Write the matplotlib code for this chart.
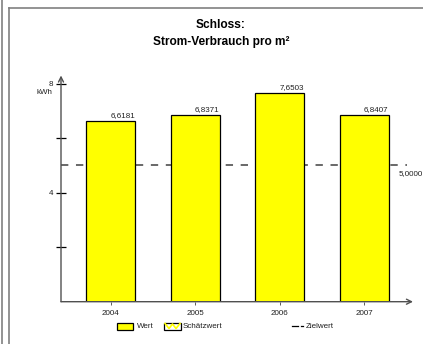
import numpy as np
import matplotlib
matplotlib.use("Agg")
import matplotlib.pyplot as plt
from matplotlib.lines import Line2D
from matplotlib.patches import Rectangle

plt.rcParams['font.family'] = ['Liberation Sans', 'DejaVu Sans']

# data
jahre = ['2004', '2005', '2006', '2007']
wert = [6.6181, 6.8371, 7.6503, 6.8407]
zielwert = 5.0
yticks = [2, 4, 6, 8]
ylabels = ['', '4', '', '8']

W, H = 423, 344
fig = plt.figure(figsize=(W/100, H/100), dpi=100)

def fx(px):
    return px / W

def fy(py):
    return 1 - py / H

# outer frame
grau = '#808080'
fig.add_artist(Line2D([fx(1.5), fx(1.5)], [0, 1], color=grau, lw=1.2))
fig.add_artist(Line2D([fx(9), fx(9)], [0, fy(8)], color=grau, lw=1.2))
fig.add_artist(Line2D([fx(9), 1], [fy(8), fy(8)], color=grau, lw=1.2))

# title
fig.text(fx(221), fy(25), 'Schloss:', ha='center', va='center',
         fontsize=8.6, fontweight='bold')
fig.text(fx(221), fy(42), 'Strom-Verbrauch pro m²', ha='center', va='center',
         fontsize=8.6, fontweight='bold')

# axes: x from 61 to 413 px, y from 301.7 (0) to 75.5 (8.3)
ax = fig.add_axes([fx(61), fy(301.7), (413-61)/W, (301.7-75.5)/H])
ax.set_xlim(-0.59, 3.58)
ax.set_ylim(0, 8.3)
for s in ax.spines.values():
    s.set_visible(False)
ax.patch.set_alpha(0)

x = np.arange(len(jahre))
ax.bar(x, wert, width=0.58, color='#FFFF00', edgecolor='black', linewidth=0.9, zorder=2)

for xi, v in zip(x, wert):
    ax.annotate(('%.4f' % v).replace('.', ','), (xi + 0.29, v), xytext=(0, 1.5),
                textcoords='offset points', ha='right', va='bottom', fontsize=5.8,
                color='#202020')

# target line
ax.plot([-0.59, 3.51], [zielwert, zielwert], color='#404040', lw=1.1,
        dashes=(4.8, 5.0), zorder=1)
ax.annotate(('%.4f' % zielwert).replace('.', ','), (3.51, zielwert), xytext=(-6, -3),
            textcoords='offset points', ha='left', va='top', fontsize=5.8,
            color='#202020', annotation_clip=False)

# axes with arrows
ax.annotate('', xy=(0, 1), xytext=(0, 0), xycoords='axes fraction',
            arrowprops=dict(arrowstyle='->', color='#505050', lw=1.0,
                            shrinkA=0, shrinkB=0, mutation_scale=9))
ax.annotate('', xy=(1, 0), xytext=(0, 0), xycoords='axes fraction',
            arrowprops=dict(arrowstyle='->', color='#505050', lw=1.0,
                            shrinkA=0, shrinkB=0, mutation_scale=9))

ax.set_yticks(yticks)
ax.set_yticklabels(ylabels)
ax.tick_params(axis='y', direction='inout', length=7, width=0.9, color='black',
               labelsize=5.8, pad=2, labelcolor='#202020')
ax.text(-0.024, 8 - 0.2, 'kWh', transform=ax.get_yaxis_transform(),
        ha='right', va='top', fontsize=5.8, color='#202020')

ax.set_xticks(x)
ax.set_xticklabels(jahre)
ax.tick_params(axis='x', direction='out', length=2, width=0.6, color='#404040',
               labelsize=5.8, pad=4, labelcolor='#202020')

# legend
fig.add_artist(Rectangle((fx(117), fy(329.5)), 16/W, 6.5/H, facecolor='#FFFF00',
                         edgecolor='black', lw=0.9))
fig.text(fx(137), fy(326), 'Wert', ha='left', va='center', fontsize=5.8, color='#202020')
fig.add_artist(Rectangle((fx(164), fy(329.5)), 17/W, 6.5/H, facecolor='white',
                         edgecolor='black', lw=0.9, zorder=3))
fig.add_artist(Line2D([fx(165), fx(169), fx(172.5), fx(176), fx(180)],
                      [fy(323.5), fy(328.5), fy(324), fy(328.5), fy(323.5)],
                      color='#FFFF00', lw=1.2, zorder=4))
fig.text(fx(183), fy(326), 'Schätzwert', ha='left', va='center', fontsize=5.8, color='#202020')
fig.add_artist(Line2D([fx(292), fx(298)], [fy(326), fy(326)], color='black', lw=0.9))
fig.add_artist(Line2D([fx(301), fx(303)], [fy(326), fy(326)], color='black', lw=0.9))
fig.text(fx(305.5), fy(326), 'Zielwert', ha='left', va='center', fontsize=5.8, color='#202020')

fig.savefig('out.png', dpi=100)
